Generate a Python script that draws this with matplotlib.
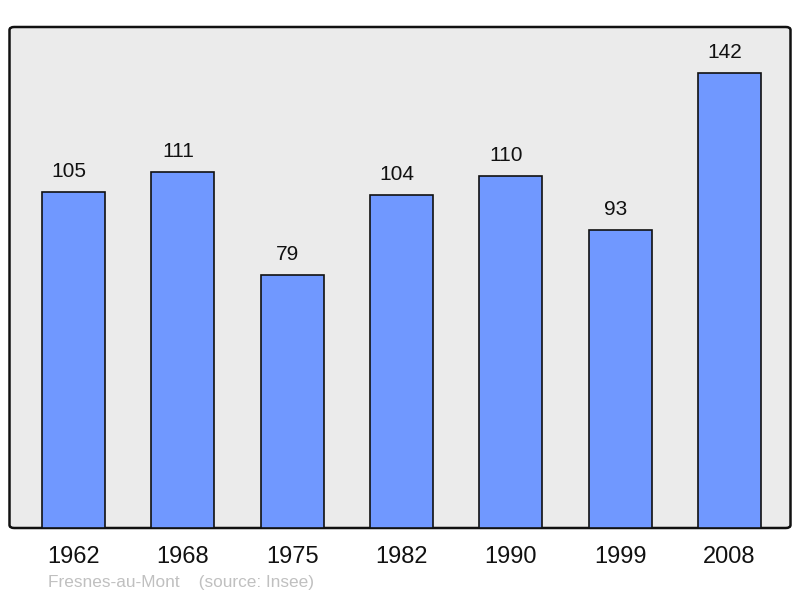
import matplotlib.pyplot as plt
from matplotlib.patches import FancyBboxPatch

# population data
years = ["1962", "1968", "1975", "1982", "1990", "1999", "2008"]
population = [105, 111, 79, 104, 110, 93, 142]
commune = "Fresnes-au-Mont"
source = "(source: Insee)"

plt.rcParams['font.family'] = ['Liberation Sans', 'DejaVu Sans']

fig = plt.figure(figsize=(8, 5.98), dpi=100)
ax = fig.add_axes([9.5 / 800, 1 - 528 / 598, 781 / 800, 501 / 598])

ax.set_facecolor('none')
for s in ax.spines.values():
    s.set_visible(False)

# rounded frame with grey fill
frame = FancyBboxPatch((0, 0), 1, 1, boxstyle="round,pad=0,rounding_size=0.006",
                       transform=ax.transAxes, facecolor='#ebebeb',
                       edgecolor='#111111', linewidth=1.8, zorder=0, clip_on=False)
ax.add_patch(frame)

x = range(len(years))
ax.bar(x, population, width=0.576, color='#7098ff', edgecolor='#111111',
       linewidth=1.2, zorder=2)

for i, v in enumerate(population):
    ax.text(i - 0.04, v + 6.4, str(v), ha='center', va='center', fontsize=15,
            color='#111111', zorder=3)

ax.set_xlim(-0.585, 6.558)
ax.set_ylim(0, 156.4)
ax.set_xticks(list(x))
ax.set_xticklabels(years, fontsize=17, color='#111111')
ax.tick_params(axis='x', length=0, pad=13)
ax.set_yticks([])

fig.text(48 / 800, 1 - 583 / 598, commune + "    " + source, fontsize=12.4,
         color='#c0c0c0', ha='left', va='center')

fig.savefig("out.png", dpi=100)
